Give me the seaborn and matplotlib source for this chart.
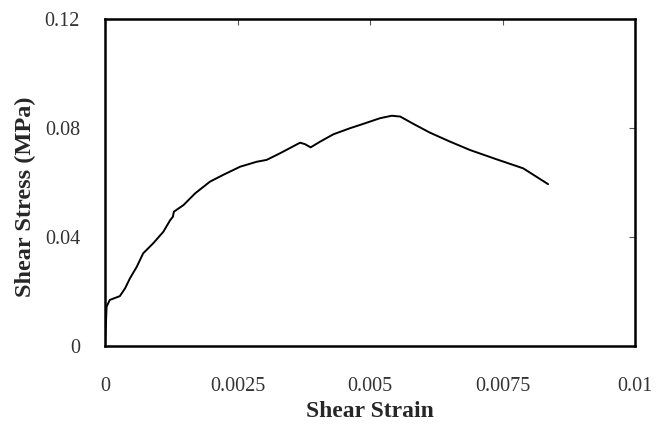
import numpy as np
import matplotlib
matplotlib.use("Agg")
import matplotlib.pyplot as plt
import pandas as pd
import seaborn as sns

# values
strain = [0.0, 0.00003, 0.00009, 0.00028, 0.00038, 0.00047, 0.0006, 0.00072, 0.00091,
          0.0011, 0.00123, 0.00128, 0.0013, 0.00148, 0.0017, 0.00198, 0.00223, 0.00255,
          0.00286, 0.00305, 0.0033, 0.00368, 0.00377, 0.00388, 0.00406, 0.00431, 0.00462,
          0.00487, 0.00519, 0.00541, 0.00557, 0.00582, 0.00613, 0.00651, 0.00689,
          0.00739, 0.00789, 0.00802, 0.00836]
stress = [0.0, 0.0144, 0.0169, 0.0183, 0.0212, 0.0248, 0.0291, 0.0340, 0.0377,
          0.0419, 0.0462, 0.0474, 0.0493, 0.0517, 0.0560, 0.0603, 0.0628, 0.0658,
          0.0676, 0.0683, 0.0707, 0.0746, 0.0741, 0.0729, 0.0750, 0.0777, 0.0799,
          0.0815, 0.0836, 0.0845, 0.0842, 0.0815, 0.0783, 0.0750, 0.0719,
          0.0685, 0.0652, 0.0636, 0.0594]
xticks = [0, 0.0025, 0.005, 0.0075, 0.01]
xticklabels = ["0", "0.0025", "0.005", "0.0075", "0.01"]
yticks = [0, 0.04, 0.08, 0.12]
yticklabels = ["0", "0.04", "0.08", "0.12"]

df = pd.DataFrame({"strain": strain, "stress": stress})

sns.set_style("white")
plt.rcParams["font.family"] = ["Liberation Serif", "DejaVu Serif"]

fig = plt.figure(figsize=(6.66, 4.25), dpi=100)
ax = fig.add_axes([105 / 666, 1 - 346 / 425, 530 / 666, 327 / 425])
sns.lineplot(data=df, x="strain", y="stress", color="black", linewidth=1.4, ax=ax)

ax.set_xlim(0, 0.01)
ax.set_ylim(0, 0.12)
ax.set_xticks(xticks)
ax.set_xticklabels(xticklabels)
ax.set_yticks(yticks)
ax.set_yticklabels(yticklabels)
ax.tick_params(direction="in", length=4, width=0.8, color="#555555",
               top=True, right=True, labelsize=14.5, labelcolor="#333333")
ax.tick_params(axis="x", pad=22)
ax.tick_params(axis="y", pad=18)
for s in ax.spines.values():
    s.set_linewidth(1.8)
    s.set_color("black")

ax.set_xlabel("Shear Strain", fontsize=17, fontweight="bold", va="top")
ax.set_ylabel("Shear Stress (MPa)", fontsize=17.5, fontweight="bold")
ax.xaxis.set_label_coords(0.5, (346 - 401) / 327)
ax.yaxis.set_label_coords((36 - 105) / 530, (346 - 197) / 327)

fig.savefig("out.png", dpi=100)
